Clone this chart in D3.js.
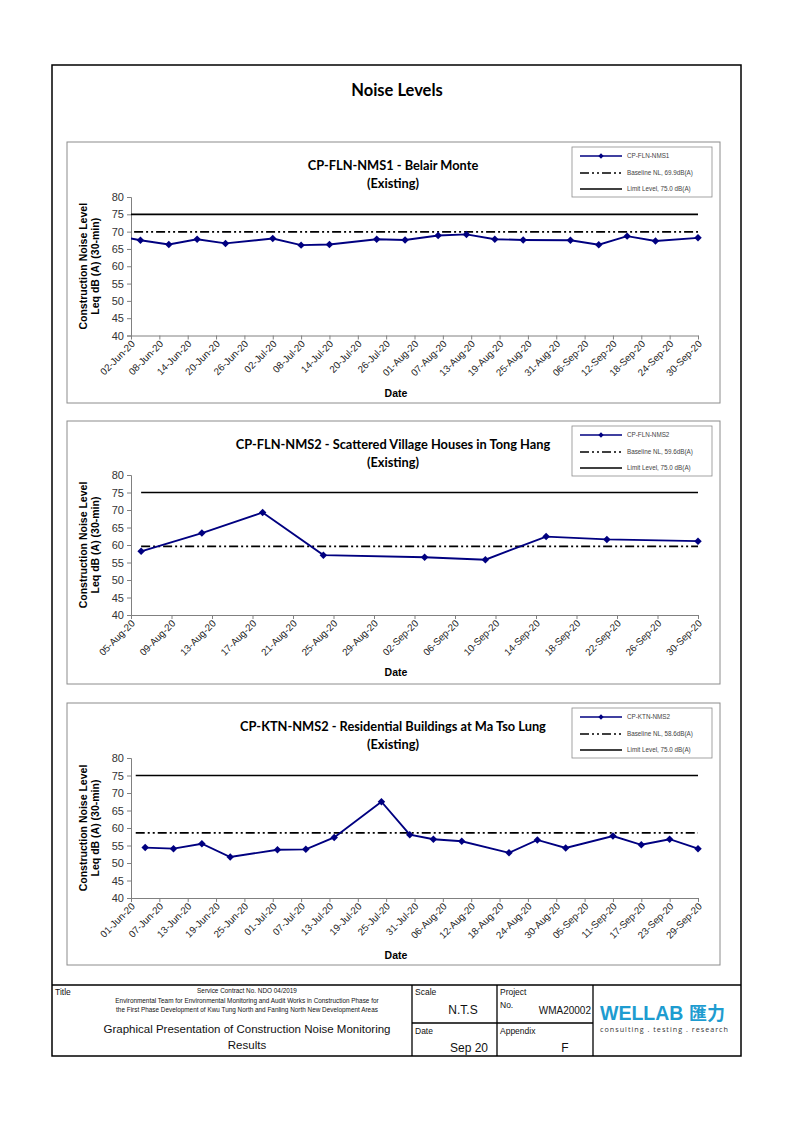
<!DOCTYPE html>
<html><head><meta charset="utf-8">
<script src="https://cdn.jsdelivr.net/npm/d3@7"></script>
<style>
body{margin:0;background:#fff}
svg text{font-family:"Liberation Sans",Arial,sans-serif}
.ttl{font-family:Lato,"Liberation Sans Narrow","Liberation Sans",sans-serif;font-weight:700}
</style>
</head><body>
<svg id="c" width="794" height="1123"></svg>
<script>
// ---------- DATA ----------
const nms1Dates  = ["29-May-20","04-Jun-20","10-Jun-20","16-Jun-20","22-Jun-20","02-Jul-20","08-Jul-20","14-Jul-20","24-Jul-20","30-Jul-20","06-Aug-20","12-Aug-20","18-Aug-20","24-Aug-20","03-Sep-20","09-Sep-20","15-Sep-20","21-Sep-20","30-Sep-20"];
const nms1Values = [69.0,67.5,66.3,67.8,66.6,68.0,66.1,66.3,67.8,67.6,68.9,69.2,67.8,67.6,67.5,66.2,68.7,67.3,68.2];

const nms2Dates  = ["06-Aug-20","12-Aug-20","18-Aug-20","24-Aug-20","03-Sep-20","09-Sep-20","15-Sep-20","21-Sep-20","30-Sep-20"];
const nms2Values = [58.2,63.4,69.3,57.1,56.5,55.8,62.4,61.6,61.1];

const ktn2Dates  = ["04-Jun-20","10-Jun-20","16-Jun-20","22-Jun-20","02-Jul-20","08-Jul-20","14-Jul-20","24-Jul-20","30-Jul-20","04-Aug-20","10-Aug-20","20-Aug-20","26-Aug-20","01-Sep-20","11-Sep-20","17-Sep-20","23-Sep-20","29-Sep-20"];
const ktn2Values = [54.4,54.1,55.5,51.7,53.8,53.9,57.3,67.5,58.1,56.8,56.2,52.9,56.6,54.3,57.7,55.2,56.8,54.1];

const seriesNames   = ["CP-FLN-NMS1","CP-FLN-NMS2","CP-KTN-NMS2"];
const chartTitles   = ["CP-FLN-NMS1 - Belair Monte","CP-FLN-NMS2 - Scattered Village Houses in Tong Hang","CP-KTN-NMS2 - Residential Buildings at Ma Tso Lung"];
const baselineLevels = [69.9, 59.6, 58.6];
const limitLevel     = 75.0;
const refStartDates  = ["29-May-20","06-Aug-20","02-Jun-20"];
const refEndDates    = ["30-Sep-20","30-Sep-20","29-Sep-20"];

const yTicks = [40,45,50,55,60,65,70,75,80];
const xTicks1 = ["02-Jun-20","08-Jun-20","14-Jun-20","20-Jun-20","26-Jun-20","02-Jul-20","08-Jul-20","14-Jul-20","20-Jul-20","26-Jul-20","01-Aug-20","07-Aug-20","13-Aug-20","19-Aug-20","25-Aug-20","31-Aug-20","06-Sep-20","12-Sep-20","18-Sep-20","24-Sep-20","30-Sep-20"];
const xTicks2 = ["05-Aug-20","09-Aug-20","13-Aug-20","17-Aug-20","21-Aug-20","25-Aug-20","29-Aug-20","02-Sep-20","06-Sep-20","10-Sep-20","14-Sep-20","18-Sep-20","22-Sep-20","26-Sep-20","30-Sep-20"];
const xTicks3 = ["01-Jun-20","07-Jun-20","13-Jun-20","19-Jun-20","25-Jun-20","01-Jul-20","07-Jul-20","13-Jul-20","19-Jul-20","25-Jul-20","31-Jul-20","06-Aug-20","12-Aug-20","18-Aug-20","24-Aug-20","30-Aug-20","05-Sep-20","11-Sep-20","17-Sep-20","23-Sep-20","29-Sep-20"];

// ---------- DRAW ----------
const parse = d3.timeParse("%d-%b-%y");
const fmt = d3.timeFormat("%d-%b-%y");
const svg = d3.select("#c");

svg.append("rect").attr("x",52).attr("y",65).attr("width",689).attr("height",991)
  .attr("fill","none").attr("stroke","#000").attr("stroke-width",1.5);

svg.append("text").attr("class","ttl").attr("x",397).attr("y",96).attr("text-anchor","middle")
  .attr("font-size",16.5).text("Noise Levels");

const panels = [
  {top:142, h:261, pTop:197, pBot:335.5, dates:nms1Dates, vals:nms1Values, ticks:xTicks1},
  {top:421, h:263, pTop:475, pBot:615,   dates:nms2Dates, vals:nms2Values, ticks:xTicks2},
  {top:703, h:262, pTop:758, pBot:898,   dates:ktn2Dates, vals:ktn2Values, ticks:xTicks3}
];
const pLeft = 131, pRight = 698;
const dashDot = "9,3,2,3,2,3";

panels.forEach((p,i)=>{
  const g = svg.append("g");
  g.append("rect").attr("x",67).attr("y",p.top).attr("width",653).attr("height",p.h)
    .attr("fill","#fff").attr("stroke","#8c8c8c").attr("stroke-width",1);

  const tickDates = p.ticks.map(parse);
  const x = d3.scaleTime().domain([tickDates[0], tickDates[tickDates.length-1]]).range([pLeft,pRight]);
  const y = d3.scaleLinear().domain([40,80]).range([p.pBot,p.pTop]);

  const cx = 393;
  g.append("text").attr("class","ttl").attr("x",cx).attr("y",p.top+28).attr("text-anchor","middle")
    .attr("font-size",12.8).text(chartTitles[i]);
  g.append("text").attr("class","ttl").attr("x",cx).attr("y",p.top+46).attr("text-anchor","middle")
    .attr("font-size",12.8).text("(Existing)");

  const yAx = g.append("g").attr("transform",`translate(${pLeft},0)`)
    .call(d3.axisLeft(y).tickValues(yTicks).tickSize(4).tickPadding(3));
  yAx.select(".domain").attr("stroke","#808080");
  yAx.selectAll(".tick line").attr("stroke","#808080");
  yAx.selectAll(".tick text").attr("font-size",11).attr("fill","#333")
    .style("font-family","'Liberation Sans',Arial,sans-serif");

  const xAx = g.append("g").attr("transform",`translate(0,${p.pBot})`)
    .call(d3.axisBottom(x).tickValues(tickDates).tickFormat(fmt).tickSize(4).tickSizeOuter(0));
  xAx.select(".domain").attr("stroke","#808080");
  xAx.selectAll(".tick line").attr("stroke","#808080");
  xAx.selectAll(".tick text").attr("font-size",9.8).attr("fill","#222")
    .style("font-family","'Liberation Sans',Arial,sans-serif")
    .attr("text-anchor","end").attr("y",0).attr("dy",0)
    .attr("transform","translate(4,9) rotate(-45)");

  const midY = (p.pTop+p.pBot)/2;
  g.append("text").attr("transform",`translate(87,${midY}) rotate(-90)`).attr("text-anchor","middle")
    .attr("font-size",10.5).attr("font-weight","bold").text("Construction Noise Level");
  g.append("text").attr("transform",`translate(99,${midY}) rotate(-90)`).attr("text-anchor","middle")
    .attr("font-size",10.5).attr("font-weight","bold").text("Leq dB (A) (30-min)");
  g.append("text").attr("x",396).attr("y",p.pBot+61).attr("text-anchor","middle")
    .attr("font-size",10.5).attr("font-weight","bold").text("Date");

  const cid = "clip"+i;
  g.append("clipPath").attr("id",cid).append("rect")
    .attr("x",pLeft).attr("y",p.pTop-5).attr("width",pRight-pLeft+6).attr("height",p.pBot-p.pTop+5);
  const pg = g.append("g").attr("clip-path",`url(#${cid})`);

  const ref = [parse(refStartDates[i]), parse(refEndDates[i])];
  const hline = d3.line().x(d=>x(d.d)).y(d=>y(d.v));
  pg.append("path").attr("d",hline(ref.map(d=>({d,v:limitLevel}))))
    .attr("stroke","#000").attr("stroke-width",1.7).attr("fill","none");
  pg.append("path").attr("d",hline(ref.map(d=>({d,v:baselineLevels[i]}))))
    .attr("stroke","#000").attr("stroke-width",1.7).attr("fill","none").attr("stroke-dasharray",dashDot);

  const data = p.dates.map((d,k)=>({d:parse(d), v:p.vals[k]}));
  pg.append("path").attr("d",hline(data)).attr("stroke","#000080").attr("stroke-width",1.9).attr("fill","none");
  const sym = d3.symbol().type(d3.symbolSquare).size(28);
  pg.selectAll(".m").data(data).enter().append("path")
    .attr("d",sym).attr("fill","#000080")
    .attr("transform",d=>`translate(${x(d.d)},${y(d.v)}) rotate(45)`);

  const lx = 572, ly = p.top+5;
  g.append("rect").attr("x",lx).attr("y",ly).attr("width",140).attr("height",50)
    .attr("fill","#fff").attr("stroke","#8c8c8c").attr("stroke-width",0.8);
  const rows = [ly+9, ly+26, ly+42];
  const labels = [seriesNames[i], `Baseline NL,  ${baselineLevels[i].toFixed(1)}dB(A)`, `Limit Level, ${limitLevel.toFixed(1)} dB(A)`];
  g.append("line").attr("x1",580).attr("x2",622).attr("y1",rows[0]).attr("y2",rows[0]).attr("stroke","#000080").attr("stroke-width",1.4);
  g.append("path").attr("d",d3.symbol().type(d3.symbolSquare).size(14)).attr("fill","#000080")
    .attr("transform",`translate(601,${rows[0]}) rotate(45)`);
  g.append("line").attr("x1",580).attr("x2",622).attr("y1",rows[1]).attr("y2",rows[1]).attr("stroke","#000").attr("stroke-width",1.4).attr("stroke-dasharray",dashDot);
  g.append("line").attr("x1",580).attr("x2",622).attr("y1",rows[2]).attr("y2",rows[2]).attr("stroke","#000").attr("stroke-width",1.4);
  labels.forEach((t,k)=>{
    g.append("text").attr("x",627).attr("y",rows[k]).attr("dy","0.35em").attr("font-size",6.3).attr("fill","#444").text(t);
  });
});

// ---------- FOOTER ----------
const f = svg.append("g");
const ln = (x1,y1,x2,y2)=>f.append("line").attr("x1",x1).attr("y1",y1).attr("x2",x2).attr("y2",y2).attr("stroke","#000").attr("stroke-width",1.3);
ln(52,985,741,985); ln(412,985,412,1056); ln(497,985,497,1056); ln(593,985,593,1056); ln(412,1023,593,1023);
const tx = (x,y,t,s,anchor,fill)=>f.append("text").attr("x",x).attr("y",y).attr("font-size",s).attr("text-anchor",anchor||"start").attr("fill",fill||"#111").text(t);
tx(55,995,"Title",8.5);
tx(247,993,"Service Contract No. NDO 04/2019",6.4,"middle");
tx(247,1002.5,"Environmental Team for Environmental Monitoring and Audit Works in Construction Phase for",6.4,"middle");
tx(247,1012,"the First Phase Development of Kwu Tung North and Fanling North New Development Areas",6.4,"middle");
tx(247,1033,"Graphical Presentation of Construction Noise Monitoring",11.5,"middle");
tx(247,1049,"Results",11.5,"middle");
tx(415,995,"Scale",8.5);
tx(463,1014,"N.T.S",12,"middle");
tx(415,1034,"Date",8.5);
tx(469,1052,"Sep 20",12,"middle");
tx(500,995,"Project",8.5);
tx(500,1008,"No.",8.5);
tx(591,1014,"WMA20002",10,"end");
tx(500,1034,"Appendix",8.5);
tx(565,1052,"F",12,"middle");
f.append("text").attr("x",600).attr("y",1020).attr("font-size",19.5).attr("font-weight","bold")
  .attr("fill","#1e9cd0").style("font-family","'Liberation Sans',Arial,sans-serif").text("WELLAB");
f.append("text").attr("x",689).attr("y",1020).attr("font-size",18).attr("font-weight","bold")
  .attr("fill","#1e9cd0").style("font-family","'Noto Sans CJK TC','Noto Sans CJK SC',sans-serif").text("匯力");
f.append("text").attr("x",600).attr("y",1032).attr("font-size",7.2).attr("fill","#333")
  .attr("textLength",128).style("font-family","'Open Sans','Liberation Sans',sans-serif").text("consulting . testing . research");
</script>
</body></html>
